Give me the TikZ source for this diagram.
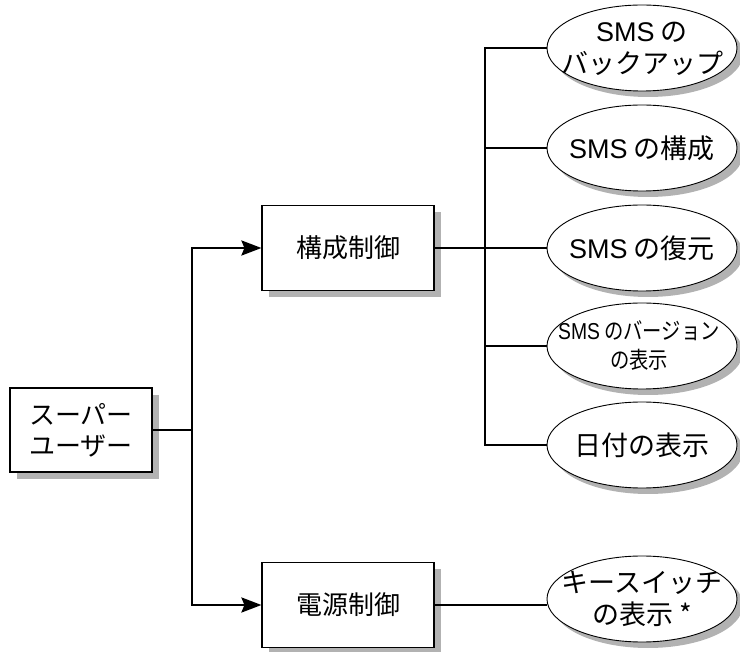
\documentclass[tikz,border=0pt]{standalone}
\usepackage{fontspec}
\setmainfont{Noto Sans CJK JP}
\newfontfamily\lat{Liberation Sans}
\newfontfamily\narrowjp[FakeStretch=0.84]{Noto Sans CJK JP}
\newfontfamily\narrowlat[FakeStretch=0.84]{Liberation Sans}
\usetikzlibrary{arrows.meta,shadows,shapes.geometric}
\tikzset{
  boxnode/.style={draw=black,line width=1.1pt,fill=white,minimum width=172pt,minimum height=85pt,inner sep=0pt,align=center,font=\fontsize{26}{31}\selectfont,
    drop shadow={shadow xshift=7pt,shadow yshift=-7pt,fill=black!30,opacity=1}},
  ellnode/.style={ellipse,draw=black,line width=0.9pt,fill=white,minimum width=190pt,minimum height=86pt,inner sep=0pt,
    drop shadow={shadow xshift=6pt,shadow yshift=-6pt,fill=black!30,opacity=1}},
  elltext/.style={align=center,inner sep=0pt,font=\fontsize{27}{32}\selectfont},
  conn/.style={line width=2.6pt},
  arr/.style={line width=2.6pt,-{Stealth[length=20pt,width=15pt,inset=3pt]}}
}
\begin{document}
\begin{tikzpicture}[x=1pt,y=-1pt]
\useasboundingbox (0,0) rectangle (740,652);
\node[boxnode,minimum width=142pt,minimum height=84pt] (su) at (81,430) {スーパー\\ユーザー};
\node[boxnode] (cfg) at (348,248) {構成制御};
\node[boxnode] (pwr) at (348,605) {電源制御};
\node[ellnode,label={[elltext,yshift=-1pt]center:{\lat SMS} の\\バックアップ}] (e1) at (642,48) {};
\node[ellnode,label={[elltext]center:{\lat SMS} の構成}] (e2) at (642,148) {};
\node[ellnode,label={[elltext]center:{\lat SMS} の復元}] (e3) at (642,248) {};
\node[ellnode,label={[elltext,font=\fontsize{23}{29}\selectfont\narrowjp,xshift=-3pt]center:{\narrowlat SMS} のバージョン\\の表示}] (e4) at (642,346) {};
\node[ellnode,label={[elltext]center:日付の表示}] (e5) at (642,445) {};
\node[ellnode,label={[elltext]center:キースイッチ\\の表示 *}] (e6) at (642,599) {};
\coordinate (j1) at (192,430);
\coordinate (hub) at (485,248);
\draw[conn] (su.east) -- (j1);
\draw[arr] (j1) |- (cfg.west);
\draw[arr] (j1) |- (pwr.west);
\draw[conn] (cfg.east) -- (hub);
\draw[conn] (e1.west) -| (hub) |- (e5.west);
\draw[conn] (e2.west) -- (e2.west -| hub);
\draw[conn] (e3.west) -- (hub);
\draw[conn] (e4.west) -- (e4.west -| hub);
\draw[conn] (pwr.east) -- (pwr.east -| e6.west);
\end{tikzpicture}
\end{document}
